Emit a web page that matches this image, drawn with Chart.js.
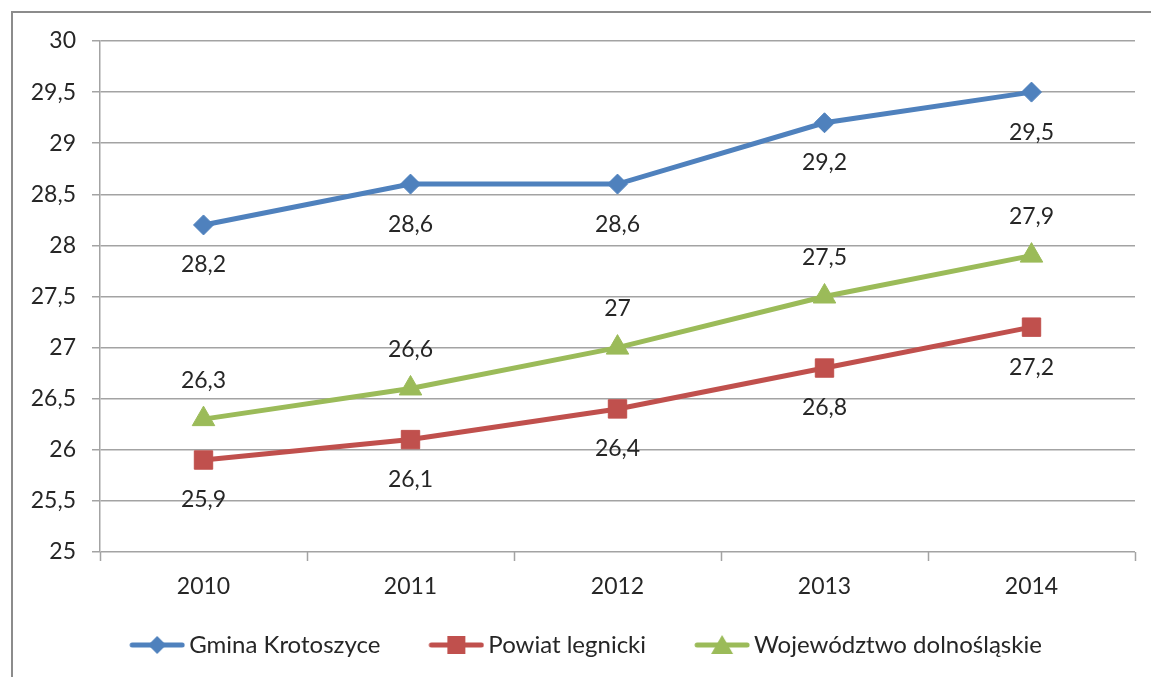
<!DOCTYPE html>
<html lang="pl">
<head>
<meta charset="UTF-8">
<title>Wykres</title>
<script src="https://cdn.jsdelivr.net/npm/chart.js"></script>
<style>
  html, body { margin: 0; padding: 0; background: #fff; }
  #wrap { position: relative; width: 1151px; height: 677px; }
</style>
</head>
<body>
<div id="wrap"><canvas id="myChart" width="1151" height="677"></canvas></div>
<script>
  // data
  const years = ['2010', '2011', '2012', '2013', '2014'];
  const gmina = [28.2, 28.6, 28.6, 29.2, 29.5];
  const powiat = [25.9, 26.1, 26.4, 26.8, 27.2];
  const wojewodztwo = [26.3, 26.6, 27.0, 27.5, 27.9];
  const seriesNames = ['Gmina Krotoszyce', 'Powiat legnicki', 'Województwo dolnośląskie'];
  const yMin = 25, yMax = 30, yStep = 0.5;

  const FONT = 'Lato, "Open Sans", sans-serif';
  const TXT = '#262626';
  const GRID = '#a3a3a3';

  function plNum(v) {
    return String(Math.round(v * 10) / 10).replace('.', ',');
  }

  // legend icon: short line with the marker in the middle.
  // The legend box is 84 wide and the image (100 wide) is centred on it,
  // so the icon is drawn at the right end, close to the text.
  function legendIcon(color, style) {
    const c = document.createElement('canvas');
    c.width = 100; c.height = 24;
    const g = c.getContext('2d');
    const o = 44;
    g.strokeStyle = color; g.fillStyle = color;
    g.lineWidth = 5; g.lineCap = 'round';
    g.beginPath(); g.moveTo(o + 3, 12); g.lineTo(o + 53, 12); g.stroke();
    g.beginPath();
    if (style === 'diamond') {
      g.moveTo(o + 28, 3); g.lineTo(o + 37, 12); g.lineTo(o + 28, 21); g.lineTo(o + 19, 12);
    } else if (style === 'square') {
      g.rect(o + 19, 3, 18, 18);
    } else {
      g.moveTo(o + 28, 2); g.lineTo(o + 39, 21); g.lineTo(o + 17, 21);
    }
    g.closePath(); g.fill();
    return c;
  }

  // value labels, under or over each point
  const valueLabels = {
    id: 'valueLabels',
    afterDatasetsDraw(chart) {
      const ctx = chart.ctx;
      ctx.save();
      ctx.font = '23px ' + FONT;
      ctx.fillStyle = TXT;
      ctx.textAlign = 'center';
      ctx.textBaseline = 'middle';
      chart.data.datasets.forEach((ds, i) => {
        const meta = chart.getDatasetMeta(i);
        meta.data.forEach((pt, j) => {
          const dy = ds.labelPos === 'above' ? -39 : 40;
          ctx.fillText(plNum(ds.data[j]), pt.x, pt.y + dy);
        });
      });
      ctx.restore();
    }
  };

  // grey frame round the chart (left and top edges show)
  const frame = {
    id: 'frame',
    beforeDraw(chart) {
      const ctx = chart.ctx;
      ctx.save();
      ctx.strokeStyle = '#8c8c8c';
      ctx.lineWidth = 2;
      ctx.strokeRect(12, 12, 1200, 800);
      ctx.restore();
    }
  };

  const data = {
    labels: years,
    datasets: [
      {
        label: seriesNames[0], data: gmina,
        borderColor: '#4f81bd', backgroundColor: '#4f81bd',
        borderWidth: 5, pointStyle: 'rectRot', pointRadius: 10,
        pointBorderWidth: 1, labelPos: 'below',
        legendImg: legendIcon('#4f81bd', 'diamond')
      },
      {
        label: seriesNames[1], data: powiat,
        borderColor: '#c0504d', backgroundColor: '#c0504d',
        borderWidth: 5, pointStyle: 'rect', pointRadius: 13,
        pointBorderWidth: 1, labelPos: 'below',
        legendImg: legendIcon('#c0504d', 'square')
      },
      {
        label: seriesNames[2], data: wojewodztwo,
        borderColor: '#9bbb59', backgroundColor: '#9bbb59',
        borderWidth: 5, pointStyle: 'triangle', pointRadius: 13,
        pointBorderWidth: 1, labelPos: 'above',
        legendImg: legendIcon('#9bbb59', 'triangle')
      }
    ]
  };

  const config = {
    type: 'line',
    data: data,
    plugins: [frame, valueLabels],
    options: {
      responsive: false,
      animation: false,
      events: [],
      layout: { padding: { top: 41, right: 16, bottom: 10, left: 0 } },
      elements: { line: { tension: 0 } },
      scales: {
        x: {
          offset: true,
          grid: { display: true, offset: true, drawOnChartArea: false, color: GRID, tickLength: 9, tickWidth: 1.5 },
          border: { display: false },
          ticks: { color: TXT, font: { family: FONT, size: 23 }, padding: 12 },
          afterFit(s) { s.height = 69; }
        },
        y: {
          min: yMin, max: yMax,
          ticks: {
            stepSize: yStep, color: TXT, padding: 16,
            font: { family: FONT, size: 23 },
            callback: (v) => plNum(v)
          },
          grid: { color: GRID, lineWidth: 1.5, tickLength: 8 },
          border: { color: GRID, width: 1.5 },
          afterFit(s) { s.width = 100; }
        }
      },
      plugins: {
        tooltip: { enabled: false },
        legend: {
          position: 'bottom',
          labels: {
            color: TXT,
            font: { family: FONT, size: 24 },
            usePointStyle: true,
            pointStyleWidth: 84,
            padding: 12,
            generateLabels(chart) {
              return chart.data.datasets.map((ds, i) => ({
                text: ds.label,
                pointStyle: ds.legendImg,
                fillStyle: ds.borderColor,
                strokeStyle: ds.borderColor,
                lineWidth: 0,
                fontColor: TXT,
                datasetIndex: i
              }));
            }
          }
        }
      }
    }
  };

  const myChart = new Chart(document.getElementById('myChart'), config);
</script>
</body>
</html>
